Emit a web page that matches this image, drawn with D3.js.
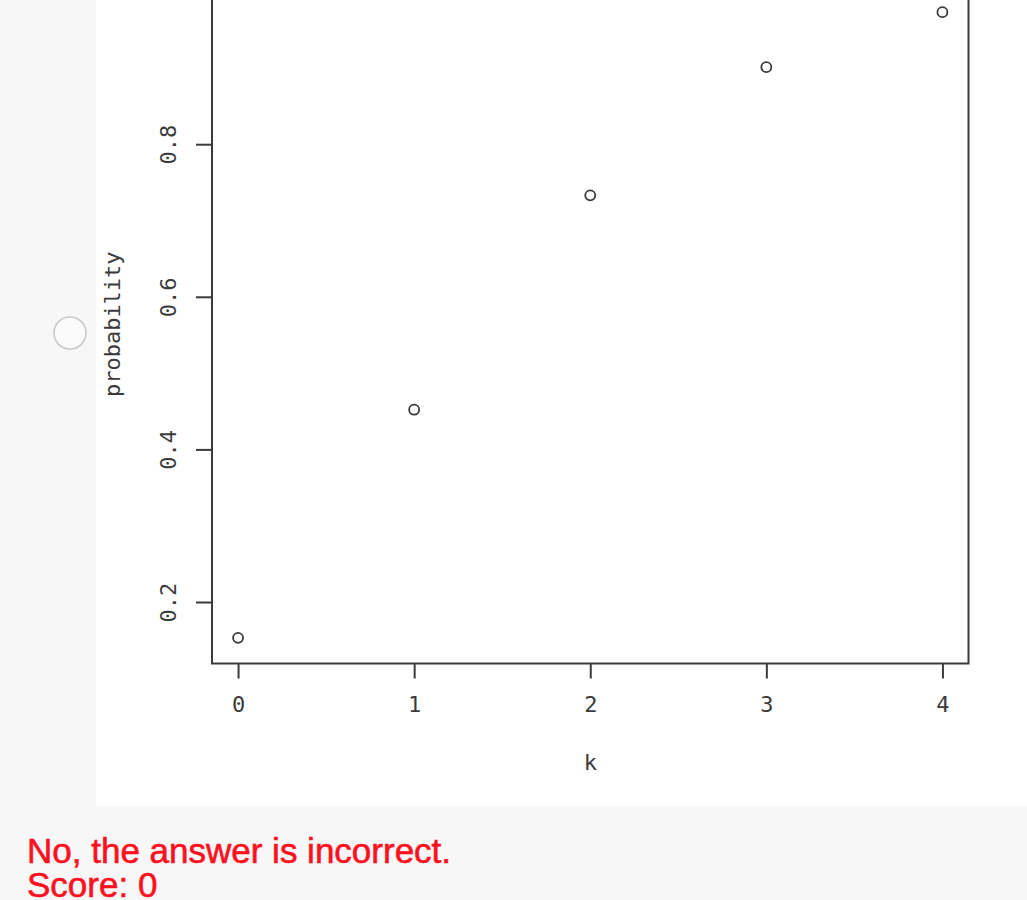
<!DOCTYPE html>
<html>
<head>
<meta charset="utf-8">
<script src="https://cdn.jsdelivr.net/npm/d3@7"></script>
<style>
  html, body { margin: 0; padding: 0; background: #f7f7f7; }
  svg { display: block; }
</style>
</head>
<body>
<svg id="chart" width="1027" height="900"></svg>
<script>
const kValues = [0, 1, 2, 3, 4];
const probabilities = [0.153, 0.452, 0.733, 0.901, 0.973];
const xTicks = [0, 1, 2, 3, 4];
const yTicks = [0.2, 0.4, 0.6, 0.8, 1];
const yTickLabels = ["0.2", "0.4", "0.6", "0.8", "1"];
const xLabel = "k";
const yLabel = "probability";
const feedback = ["No, the answer is incorrect.", "Score: 0"];

const svg = d3.select("#chart");
const tickFont = "'DejaVu Sans Mono', monospace";
const ink = "#3a3a3a";

// white panel
svg.append("rect").attr("x", 96).attr("y", 0).attr("width", 931).attr("height", 806).attr("fill", "#ffffff");

// radio circle
svg.append("circle").attr("cx", 70).attr("cy", 333).attr("r", 16)
  .attr("fill", "#fbfbfb").attr("stroke", "#c8c8c8").attr("stroke-width", 1.6);

// padded domains
const xr = d3.extent(kValues);
const xPad = (xr[1] - xr[0]) * 0.037;
const x = d3.scaleLinear().domain([xr[0] - xPad, xr[1] + xPad]).range([212, 968.5]);
const yPx = 763; // pixels per unit probability
const y = d3.scaleLinear().domain([0.2, 0.8]).range([602, 602 - 0.6 * yPx]);
const yBottom = 663.5, yTop = -15;

// box
svg.append("rect")
  .attr("x", x.range()[0]).attr("y", yTop)
  .attr("width", x.range()[1] - x.range()[0]).attr("height", yBottom - yTop)
  .attr("fill", "none").attr("stroke", ink).attr("stroke-width", 2);

// y axis
const yAxis = svg.append("g").attr("transform", `translate(${x.range()[0]},0)`)
  .call(d3.axisLeft(y).tickValues(yTicks).tickSize(16).tickFormat((d, i) => yTickLabels[i]));
yAxis.select(".domain").remove();
yAxis.selectAll(".tick line").attr("stroke", ink).attr("stroke-width", 2);
yAxis.selectAll(".tick text")
  .attr("x", null).attr("dy", null)
  .attr("text-anchor", "middle")
  .attr("transform", "translate(-36,0) rotate(-90)")
  .attr("font-family", tickFont).attr("font-size", 22).attr("fill", ink);

// x axis
const xAxis = svg.append("g").attr("transform", `translate(0,${yBottom})`)
  .call(d3.axisBottom(x).tickValues(xTicks).tickSize(15).tickPadding(18).tickFormat(d3.format("d")));
xAxis.select(".domain").remove();
xAxis.selectAll(".tick line").attr("stroke", ink).attr("stroke-width", 2);
xAxis.selectAll(".tick text")
  .attr("font-family", tickFont).attr("font-size", 22).attr("fill", ink);

// axis labels
svg.append("text").attr("x", (x.range()[0] + x.range()[1]) / 2).attr("y", 770)
  .attr("text-anchor", "middle").attr("font-family", tickFont).attr("font-size", 22).attr("fill", ink)
  .text(xLabel);
svg.append("text")
  .attr("transform", `translate(120,${(yBottom + yTop) / 2}) rotate(-90)`)
  .attr("text-anchor", "middle").attr("font-family", tickFont).attr("font-size", 22).attr("fill", ink)
  .text(yLabel);

// points
svg.append("g").selectAll("circle").data(kValues).join("circle")
  .attr("cx", d => x(d)).attr("cy", (d, i) => y(probabilities[i]))
  .attr("r", 5).attr("fill", "none").attr("stroke", ink).attr("stroke-width", 1.8);

// feedback text
svg.append("g").selectAll("text").data(feedback).join("text")
  .attr("x", 27).attr("y", (d, i) => 863 + i * 34)
  .attr("font-family", "'Liberation Sans', Arial, sans-serif").attr("font-size", 35)
  .attr("fill", "#ff1020").attr("stroke", "#ff1020").attr("stroke-width", 0.6)
  .text(d => d);
</script>
</body>
</html>
